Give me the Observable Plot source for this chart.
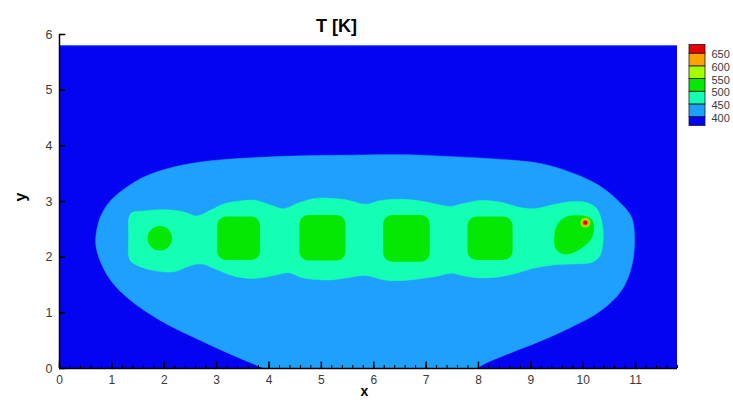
<!DOCTYPE html>
<html>
<head>
<meta charset="utf-8">
<script src="https://cdn.jsdelivr.net/npm/d3@7"></script>
<script src="https://cdn.jsdelivr.net/npm/@observablehq/plot@0.6"></script>
<style>
  body { margin: 0; background: #fff; }
  #wrap { position: relative; width: 733px; height: 400px; }
  #wrap svg { display: block; overflow: visible; }
  #legend { position: absolute; left: 680px; top: 30px; }
</style>
</head>
<body>
<div id="wrap"><div id="main"></div><div id="legend"></div></div>
<script>
// Contour levels of the temperature field, in kelvin, and the band colours
const levels = [400, 450, 500, 550, 600, 650];
const bandColors = ["#0404F2", "#1EA0FF", "#14FFB4", "#04E804", "#A6FF00", "#FFA200", "#E60000"];

// Axis ticks
const xTicks = [0, 1, 2, 3, 4, 5, 6, 7, 8, 9, 10, 11];
const yTicks = [0, 1, 2, 3, 4, 5, 6];

// Extent of the computed domain (x, y)
const fieldExtent = [{x1: 0, x2: 11.8, y1: 0, y2: 5.8}];

// T = 450 K isotherm (outline of the warm envelope), x/y pairs
const envelope450 = [
  [3.91, 0], [3.33, 0.23], [2.70, 0.50], [1.93, 0.86], [1.36, 1.22], [0.98, 1.58],
  [0.75, 2.00], [0.69, 2.30], [0.78, 2.72], [0.98, 3.02], [1.29, 3.26], [1.61, 3.44],
  [2.06, 3.59], [2.70, 3.71], [3.97, 3.80], [5.30, 3.83], [6.60, 3.84], [7.40, 3.81],
  [8.24, 3.77], [9.20, 3.68], [9.83, 3.50], [10.28, 3.30], [10.66, 3.02], [10.92, 2.72],
  [10.98, 2.30], [10.92, 1.82], [10.73, 1.40], [10.34, 1.04], [9.77, 0.74], [9.20, 0.50],
  [8.56, 0.26], [8.11, 0.08], [7.99, 0], [7.85, -0.25], [4.50, -0.25]
];

// T = 500 K isotherm (the band enclosing the row of cores)
const band500 = [
  [1.36, 2.78], [1.62, 2.83], [2.05, 2.85], [2.38, 2.81], [2.62, 2.74], [2.90, 2.85],
  [3.15, 2.96], [3.45, 3.01], [3.75, 3.02], [4.05, 2.93], [4.28, 2.87], [4.55, 2.97],
  [4.85, 3.05], [5.15, 3.06], [5.47, 3.03], [5.84, 2.95], [6.14, 3.02], [6.55, 3.04],
  [6.95, 3.00], [7.25, 2.94], [7.45, 2.91], [7.70, 2.96], [8.05, 3.02], [8.45, 2.98],
  [8.80, 2.89], [9.08, 2.87], [9.42, 2.94], [9.80, 3.00], [10.06, 2.98], [10.25, 2.88],
  [10.35, 2.66], [10.38, 2.31], [10.31, 2.01], [10.17, 1.91], [9.87, 1.88], [9.42, 1.86],
  [9.04, 1.80], [8.72, 1.71], [8.34, 1.64], [8.00, 1.63], [7.73, 1.66], [7.48, 1.71],
  [7.22, 1.66], [6.77, 1.60], [6.27, 1.58], [5.83, 1.67], [5.50, 1.63], [5.15, 1.59],
  [4.64, 1.63], [4.38, 1.72], [4.13, 1.68], [3.75, 1.62], [3.37, 1.65], [3.02, 1.77],
  [2.70, 1.88], [2.44, 1.83], [2.19, 1.74], [1.80, 1.76], [1.45, 1.87], [1.34, 1.96],
  [1.32, 2.35]
];

// T = 550 K cores: the small western one and the four square-ish ones
const coreWest = [{x1: 1.69, x2: 2.16, y1: 2.11, y2: 2.55}];
const cores550 = [
  {x1: 3.02, x2: 3.84, y1: 1.94, y2: 2.72},
  {x1: 4.59, x2: 5.47, y1: 1.93, y2: 2.75},
  {x1: 6.19, x2: 7.08, y1: 1.91, y2: 2.75},
  {x1: 7.80, x2: 8.66, y1: 1.94, y2: 2.72}
];
// eastern core, tilted toward the hot spot
const coreEast = [
  [9.45, 2.36], [9.52, 2.60], [9.67, 2.72], [9.90, 2.75], [10.06, 2.73], [10.17, 2.66],
  [10.20, 2.51], [10.15, 2.33], [9.99, 2.18], [9.77, 2.07], [9.61, 2.06], [9.48, 2.15]
];

// Hot spot (above 650 K)
const hotSpot = [{x: 10.04, y: 2.62}];

const font = "Arial, 'Liberation Sans', Helvetica, sans-serif";
const px = (d) => d[0], py = (d) => d[1];

const main = Plot.plot({
  width: 733,
  height: 400,
  marginLeft: 59,
  marginRight: 56,
  marginTop: 34,
  marginBottom: 32,
  style: {fontFamily: font, background: "transparent", overflow: "visible"},
  x: {domain: [0, 11.8], axis: null},
  y: {domain: [0, 6], axis: null},
  marks: [
    // background (below 400 K)
    Plot.rect(fieldExtent, {x1: "x1", x2: "x2", y1: "y1", y2: "y2", fill: bandColors[0]}),
    Plot.ruleY(fieldExtent, {y: "y2", x1: "x1", x2: "x2", stroke: "#4A66FF", strokeWidth: 1}),
    // 400–450 K envelope
    Plot.line(envelope450, {x: px, y: py, curve: "catmull-rom-closed", fill: bandColors[1], stroke: bandColors[1], strokeWidth: 0.5, clip: true}),
    // 450–500 K band
    Plot.line(band500, {x: px, y: py, curve: "catmull-rom-closed", fill: bandColors[2], stroke: bandColors[2], strokeWidth: 0.5}),
    // 500–550 K cores
    Plot.rect(coreWest, {x1: "x1", x2: "x2", y1: "y1", y2: "y2", rx: 12.5, fill: bandColors[3]}),
    Plot.rect(cores550, {x1: "x1", x2: "x2", y1: "y1", y2: "y2", rx: 9, fill: bandColors[3]}),
    Plot.line(coreEast, {x: px, y: py, curve: "catmull-rom-closed", fill: bandColors[3], stroke: bandColors[3], strokeWidth: 0.5}),
    // hot spot rings
    Plot.dot(hotSpot, {x: "x", y: "y", r: 5, fill: bandColors[4], fillOpacity: 0.75, stroke: "none"}),
    Plot.dot(hotSpot, {x: "x", y: "y", r: 3.5, fill: bandColors[5], stroke: "none"}),
    Plot.dot(hotSpot, {x: "x", y: "y", r: 2.2, fill: bandColors[6], stroke: "none"}),
    // axis lines
    Plot.ruleY([0], {x1: 0, x2: 11.8, stroke: "#000", strokeWidth: 1.5}),
    Plot.ruleX([0], {y1: 0, y2: 6, stroke: "#000", strokeWidth: 1.5}),
    // inward tick marks
    Plot.ruleX(d3.range(0, 11.81, 0.2), {x: (d) => d, y1: 0, y2: 0.055, stroke: "#000", strokeWidth: 1}),
    Plot.ruleX(xTicks, {x: (d) => d, y1: 0, y2: 0.115, stroke: "#000", strokeWidth: 1.5}),
    Plot.ruleY(yTicks, {y: (d) => d, x1: 0, x2: 0.12, stroke: "#000", strokeWidth: 1.5}),
    // tick labels
    Plot.text(xTicks, {x: (d) => d, y: 0, dy: 12, text: (d) => String(d), fontSize: 12, fill: "#3a3a3a"}),
    Plot.text(yTicks, {x: 0, y: (d) => d, dx: -7, textAnchor: "end", text: (d) => String(d), fontSize: 12.5, fill: "#3a3a3a"}),
    // title and axis names
    Plot.text(["T [K]"], {frameAnchor: "top", dx: -32, dy: -15, text: (d) => d, fontSize: 18, fontWeight: "bold", fill: "#000"}),
    Plot.text(["x"], {frameAnchor: "bottom", dx: -4, dy: 23.5, lineAnchor: "middle", text: (d) => d, fontSize: 14, fontWeight: "bold", fill: "#000"}),
    Plot.text(["y"], {frameAnchor: "left", dx: -39, rotate: -90, text: (d) => d, fontSize: 16, fontWeight: "bold", fill: "#000"})
  ]
});
document.getElementById("main").append(main);

// Vertical colour legend: one swatch per band, labels at the level boundaries
const legendLow = [365, ...levels];
const legendHigh = [...levels, 684];
const legendBands = bandColors.map((c, i) => ({lo: legendLow[i], hi: legendHigh[i], color: c}));

const legend = Plot.plot({
  width: 53,
  height: 105,
  marginLeft: 9,
  marginRight: 28,
  marginTop: 14.5,
  marginBottom: 9.5,
  style: {fontFamily: font, background: "transparent", overflow: "visible"},
  x: {domain: [0, 1], axis: null},
  y: {domain: [365, 684], axis: null},
  marks: [
    Plot.rect(legendBands, {x1: 0, x2: 1, y1: "lo", y2: "hi", fill: "color", stroke: "#1a1a1a", strokeWidth: 0.8}),
    Plot.text(levels, {x: 1, y: (d) => d, dx: 6, dy: 1, textAnchor: "start", text: (d) => String(d), fontSize: 11, fill: "#3a3a3a"})
  ]
});
document.getElementById("legend").append(legend);
</script>
</body>
</html>
